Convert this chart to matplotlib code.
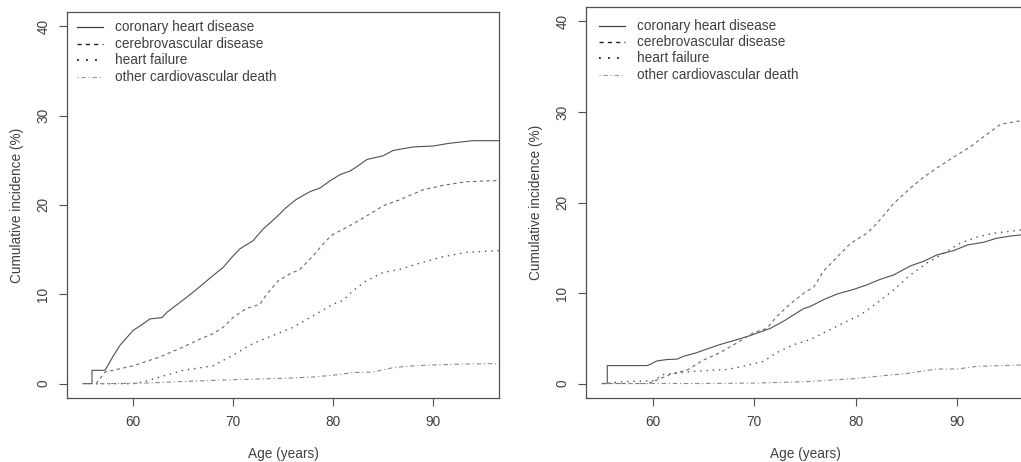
import matplotlib
matplotlib.use("Agg")
import matplotlib.pyplot as plt
from matplotlib.lines import Line2D

plt.rcParams['font.family'] = ['Liberation Sans', 'DejaVu Sans']

labels = ["coronary heart disease", "cerebrovascular disease",
          "heart failure", "other cardiovascular death"]

# ---- left panel ----
L_chd_age = [55.0, 55.9, 55.9, 57.2, 58.0, 58.7, 60.0, 61.0, 61.7, 62.9, 63.4, 65.4, 66.4,
             68.0, 69.0, 70.0, 70.7, 72.0, 73.0, 74.3, 75.3, 76.3, 77.7, 78.7, 79.7,
             80.7, 81.7, 82.4, 83.4, 85.0, 86.0, 88.0, 90.0, 91.6, 94.0, 96.6]
L_chd_val = [0.0, 0.0, 1.5, 1.5, 3.05, 4.3, 5.95, 6.7, 7.25, 7.4, 8.0, 9.7, 10.6,
             12.1, 13.0, 14.3, 15.1, 16.0, 17.3, 18.6, 19.7, 20.6, 21.5, 21.9, 22.7,
             23.4, 23.8, 24.3, 25.1, 25.5, 26.1, 26.5, 26.6, 26.9, 27.2, 27.2]

L_cvd_age = [56.3, 57.2, 60.0, 62.7, 65.0, 66.7, 68.0, 69.0, 70.0, 71.3, 72.7, 73.3, 74.5,
             75.7, 76.7, 78.0, 79.3, 80.0, 81.7, 83.4, 85.0, 86.7, 89.0, 91.0, 93.3, 96.6]
L_cvd_val = [0.0, 1.3, 2.0, 3.0, 4.1, 5.0, 5.6, 6.3, 7.4, 8.4, 8.9, 9.9, 11.5,
             12.3, 12.8, 14.3, 16.0, 16.7, 17.7, 18.8, 19.9, 20.6, 21.7, 22.2, 22.6, 22.75]

L_hf_age = [56.3, 60.0, 61.0, 62.7, 65.0, 68.0, 70.0, 72.0, 74.0, 76.0, 78.0, 80.0, 81.0,
            82.0, 83.3, 85.0, 86.7, 89.0, 91.0, 93.3, 96.6]
L_hf_val = [0.0, 0.0, 0.2, 0.75, 1.5, 2.0, 3.2, 4.5, 5.4, 6.3, 7.6, 8.9, 9.3,
            10.4, 11.5, 12.45, 12.8, 13.6, 14.2, 14.7, 14.9]

L_oth_age = [56.3, 60.0, 62.0, 65.0, 70.0, 75.0, 78.0, 80.0, 82.0, 84.0, 86.0, 88.0,
             90.0, 93.0, 96.6]
L_oth_val = [0.0, 0.05, 0.1, 0.25, 0.45, 0.6, 0.75, 0.95, 1.25, 1.3, 1.8, 2.0,
             2.1, 2.2, 2.25]

# ---- right panel ----
R_chd_age = [55.0, 55.5, 55.5, 59.4, 59.7, 60.4, 61.4, 62.4, 63.0, 64.3, 65.3, 66.6, 68.3,
             69.6, 71.6, 72.9, 73.9, 74.9, 75.5, 76.8, 78.2, 79.8, 81.1, 82.4, 83.75,
             85.4, 86.7, 88.0, 89.7, 91.0, 92.6, 93.9, 95.3, 96.6]
R_chd_val = [0.0, 0.0, 1.98, 1.98, 2.1, 2.5, 2.65, 2.7, 3.0, 3.4, 3.8, 4.3, 4.85,
             5.3, 6.1, 6.9, 7.6, 8.3, 8.5, 9.25, 9.9, 10.4, 10.9, 11.5, 12.0,
             13.0, 13.5, 14.2, 14.7, 15.3, 15.6, 16.05, 16.3, 16.45]

R_cvd_age = [55.0, 59.5, 60.1, 61.7, 63.4, 65.0, 66.6, 68.3, 69.9, 71.25, 72.2, 73.55,
             74.9, 75.9, 76.8, 78.2, 79.5, 81.1, 82.1, 83.75, 85.4, 86.7, 88.0, 89.7,
             91.3, 92.6, 94.3, 96.6]
R_cvd_val = [0.0, 0.0, 0.25, 1.0, 1.5, 2.6, 3.4, 4.5, 5.6, 6.1, 7.4, 8.8,
             10.0, 10.7, 12.4, 14.0, 15.5, 16.6, 17.7, 19.9, 21.6, 22.8, 23.8, 25.05,
             26.15, 27.25, 28.65, 29.1]

R_hf_age = [55.0, 57.0, 60.0, 61.05, 64.0, 67.3, 68.9, 70.9, 72.2, 73.9, 75.5, 77.2,
            78.8, 80.5, 82.1, 83.75, 85.4, 87.0, 88.7, 90.3, 92.0, 93.6, 96.6]
R_hf_val = [0.0, 0.2, 0.3, 1.0, 1.35, 1.55, 1.9, 2.45, 3.4, 4.3, 4.85, 5.8,
            6.7, 7.6, 8.9, 10.35, 12.0, 13.3, 14.4, 15.5, 16.2, 16.6, 17.0]

R_oth_age = [55.0, 65.0, 70.0, 75.0, 80.0, 83.0, 85.0, 88.0, 90.0, 92.0, 96.6]
R_oth_val = [0.0, 0.0, 0.05, 0.2, 0.55, 0.9, 1.1, 1.6, 1.6, 1.9, 2.05]

xticks = [60, 70, 80, 90]
yticks = [0, 10, 20, 30, 40]

W, H = 1021, 462
fig = plt.figure(figsize=(W / 100, H / 100), dpi=100)

def px_axes(left, right, top, bottom):
    return fig.add_axes([left / W, 1 - bottom / H, (right - left) / W, (bottom - top) / H])

axL = px_axes(67, 499, 12, 398)
axR = px_axes(586, 1024, 7, 398)

styles = [
    dict(color="#505050", linestyle="-", lw=0.8),
    dict(color="#6a6a6a", linestyle=(0, (3, 3)), lw=0.8),
    dict(color="#505050", linestyle=(0, (1, 3.5)), lw=1.0),
    dict(color="#8a8a8a", linestyle=(0, (1, 2.5, 4, 2.5)), lw=0.8),
]
leg_styles = [
    dict(color="#404040", linestyle="-", lw=0.9),
    dict(color="#202020", linestyle=(0, (3, 3)), lw=1.0),
    dict(color="#202020", linestyle=(0, (1, 4)), lw=1.3),
    dict(color="#9a9a9a", linestyle=(0, (1, 2.5, 4, 2.5)), lw=0.8),
]

panels = [
    (axL, [(L_chd_age, L_chd_val), (L_cvd_age, L_cvd_val), (L_hf_age, L_hf_val), (L_oth_age, L_oth_val)],
     (67, 499, 12, 398), (77, 103, 115), [27.0, 43.7, 60.3, 76.8]),
    (axR, [(R_chd_age, R_chd_val), (R_cvd_age, R_cvd_val), (R_hf_age, R_hf_val), (R_oth_age, R_oth_val)],
     (586, 1024, 7, 398), (599, 625, 637), [25.7, 42.0, 58.4, 74.7]),
]

txtc = "#404040"
fs = 9.8
for ax, series, box, legx, legy in panels:
    for (x, y), st in zip(series, styles):
        ax.plot(x, y, **st)
    ax.set_xlim(53.4, 96.6)
    ax.set_ylim(-1.6, 41.6)
    ax.set_xticks(xticks)
    ax.set_yticks(yticks)
    ax.set_yticklabels([str(t) for t in yticks], rotation=90, va="center")
    ax.tick_params(axis="both", length=6, width=0.8, color="#505050",
                   labelsize=fs, labelcolor=txtc, pad=6)
    for sp in ax.spines.values():
        sp.set_color("#505050")
        sp.set_linewidth(0.9)
    ax.set_xlabel("Age (years)", fontsize=fs, color=txtc, labelpad=13)
    ax.set_ylabel("Cumulative incidence (%)", fontsize=fs, color=txtc, labelpad=9)
    # legend keys drawn in axes-fraction coordinates (no frame, R style)
    l, r, t, b = box
    fx = lambda px: (px - l) / (r - l)
    fy = lambda py: (b - py) / (b - t)
    for lab, st, yy in zip(labels, leg_styles, legy):
        ax.add_line(Line2D([fx(legx[0]), fx(legx[1])], [fy(yy), fy(yy)],
                           transform=ax.transAxes, **st))
        ax.text(fx(legx[2]), fy(yy), lab, transform=ax.transAxes, fontsize=fs,
                color=txtc, va="center", ha="left")

fig.savefig("out.png", dpi=100)
